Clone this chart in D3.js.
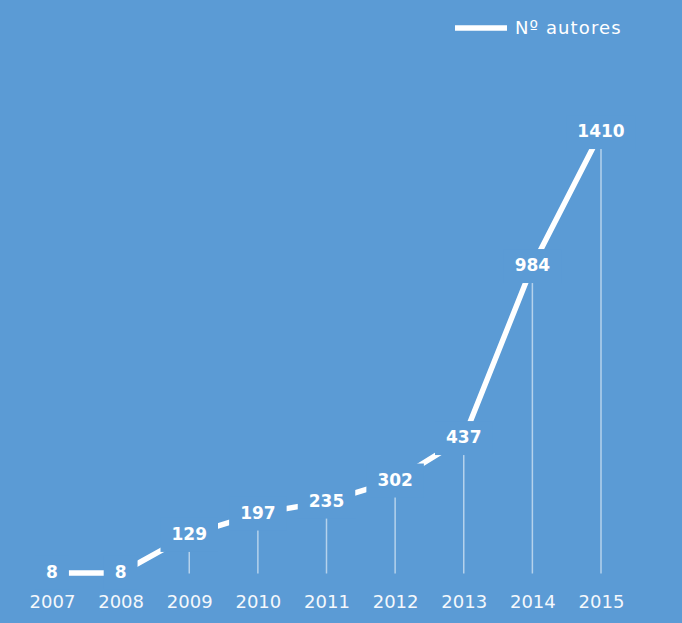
<!DOCTYPE html>
<html><head><meta charset="utf-8">
<script src="https://cdn.jsdelivr.net/npm/d3@7"></script>
<style>
html,body{margin:0;padding:0;background:#5b9bd5;}
svg{display:block;}
</style></head>
<body>
<svg id="chart" width="682" height="623"></svg>
<script>
const years = ["2007","2008","2009","2010","2011","2012","2013","2014","2015"];
const autores = [8, 8, 129, 197, 235, 302, 437, 984, 1410];
const seriesName = "Nº autores";

const W = 682, H = 623, BG = "#5b9bd5";
const svg = d3.select("#chart");
svg.append("rect").attr("width", W).attr("height", H).attr("fill", BG);

const x = d3.scalePoint().domain(years).range([52, 601]);
const y = d3.scaleLinear().domain([0, 1600]).range([575.5, 72.3]);

const data = years.map((yr, i) => ({yr, v: autores[i]}));

// drop lines
svg.append("g").selectAll("line").data(data).join("line")
  .attr("x1", d => x(d.yr)).attr("x2", d => x(d.yr))
  .attr("y1", d => y(d.v)).attr("y2", y(0) - 2)
  .attr("stroke", "#ffffff").attr("stroke-opacity", 0.55).attr("stroke-width", 1.5);

// main line
svg.append("path").datum(data)
  .attr("d", d3.line().x(d => x(d.yr)).y(d => y(d.v)))
  .attr("fill", "none").attr("stroke", "#ffffff").attr("stroke-width", 5.5)
  .attr("stroke-linecap", "butt").attr("stroke-linejoin", "round");

// labels with background boxes
const lg = svg.append("g");
data.forEach(d => {
  const g = lg.append("g");
  const r = g.append("rect").attr("fill", BG);
  const t = g.append("text")
    .attr("x", x(d.yr)).attr("y", y(d.v) - 1)
    .attr("dy", "0.36em").attr("text-anchor", "middle")
    .attr("font-family", "DejaVu Sans").attr("font-weight", "bold")
    .attr("font-size", 17).attr("fill", "#ffffff")
    .text(d.v);
  const w = t.node().getComputedTextLength() + 22;
  r.attr("x", x(d.yr) - w / 2).attr("y", y(d.v) - 17).attr("width", w).attr("height", 34);
});

// x axis
const ax = svg.append("g").attr("transform", `translate(0,575.5)`)
  .call(d3.axisBottom(x).tickSize(0).tickPadding(20));
ax.select(".domain").remove();
ax.selectAll("text").attr("font-family", "DejaVu Sans").attr("font-size", 18)
  .attr("fill", "#f4f8fc");

// legend
svg.append("line").attr("x1", 455).attr("x2", 507).attr("y1", 28).attr("y2", 28)
  .attr("stroke", "#ffffff").attr("stroke-width", 5.5);
svg.append("text").attr("x", 515).attr("y", 28).attr("dy", "0.36em")
  .attr("font-family", "DejaVu Sans").attr("font-size", 18).attr("fill", "#ffffff")
  .attr("letter-spacing", 1.1)
  .text(seriesName);
</script>
</body></html>
